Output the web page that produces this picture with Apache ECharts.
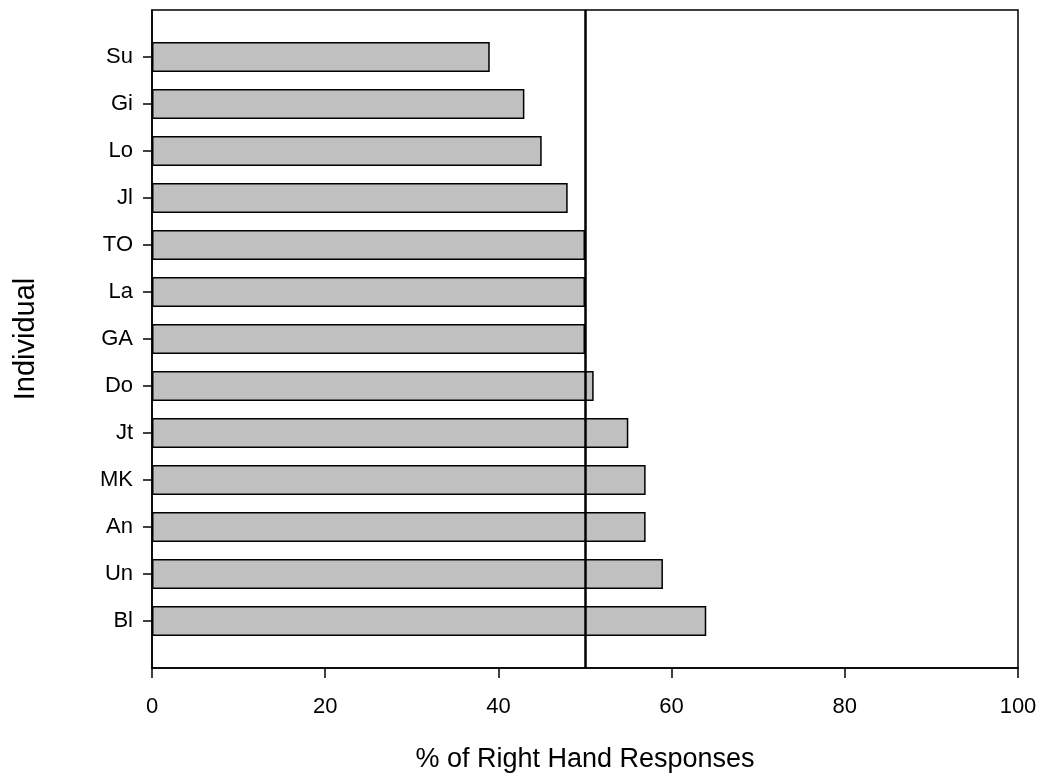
<!DOCTYPE html>
<html>
<head>
<meta charset="utf-8">
<script src="https://cdn.jsdelivr.net/npm/echarts@6/dist/echarts.min.js"></script>
<style>html,body{margin:0;padding:0;background:#fff;}#c{width:1052px;height:777px;}</style>
</head>
<body>
<div id="c"></div>
<script>
const categories = ['Su', 'Gi', 'Lo', 'Jl', 'TO', 'La', 'GA', 'Do', 'Jt', 'MK', 'An', 'Un', 'Bl'];
const values = [39, 43, 45, 48, 50, 50, 50, 51, 55, 57, 57, 59, 64];
const xTicks = [0, 20, 40, 60, 80, 100];
const referenceValue = 50;

const cats = [''].concat(categories, ['']);
const vals = [null].concat(values, [null]);
const font = '"Liberation Sans", Arial, sans-serif';

const chart = echarts.init(document.getElementById('c'), null, {renderer: 'canvas'});
chart.setOption({
  animation: false,
  backgroundColor: '#fff',
  grid: {left: 152, right: 34, top: 10, bottom: 109, outerBoundsMode: 'none', containLabel: false, show: true, borderColor: '#000', borderWidth: 1.5, backgroundColor: 'transparent'},
  xAxis: {
    type: 'value', min: xTicks[0], max: xTicks[xTicks.length - 1], interval: 20,
    name: '% of Right Hand Responses', nameLocation: 'middle', nameGap: 78,
    nameTextStyle: {fontFamily: font, fontSize: 27, color: '#000'},
    axisLine: {show: true, lineStyle: {color: '#000', width: 1.5}},
    axisTick: {show: true, inside: false, length: 10, lineStyle: {color: '#000', width: 1.5}},
    axisLabel: {fontFamily: font, fontSize: 22, color: '#000', margin: 28},
    splitLine: {show: false}
  },
  yAxis: {
    type: 'category', data: cats, inverse: true, boundaryGap: false,
    name: 'Individual', nameLocation: 'middle', nameGap: 112, nameRotate: 90,
    nameTextStyle: {fontFamily: font, fontSize: 29, color: '#000'},
    axisLine: {show: true, lineStyle: {color: '#000', width: 1.5}},
    axisTick: {show: true, inside: false, length: 9, interval: function (i) { return i > 0 && i < cats.length - 1; }, lineStyle: {color: '#000', width: 1.5}},
    axisLabel: {fontFamily: font, fontSize: 22, color: '#000', margin: 19, interval: 0},
    splitLine: {show: false}
  },
  series: [{
    type: 'bar', data: vals, barWidth: 30,
    itemStyle: {color: '#c0c0c0', borderColor: '#000', borderWidth: 1.5},
    markLine: {
      silent: true, symbol: ['none', 'none'], label: {show: false},
      lineStyle: {color: '#000', width: 2.5, type: 'solid'},
      data: [{xAxis: referenceValue}]
    }
  }]
});
</script>
</body>
</html>
